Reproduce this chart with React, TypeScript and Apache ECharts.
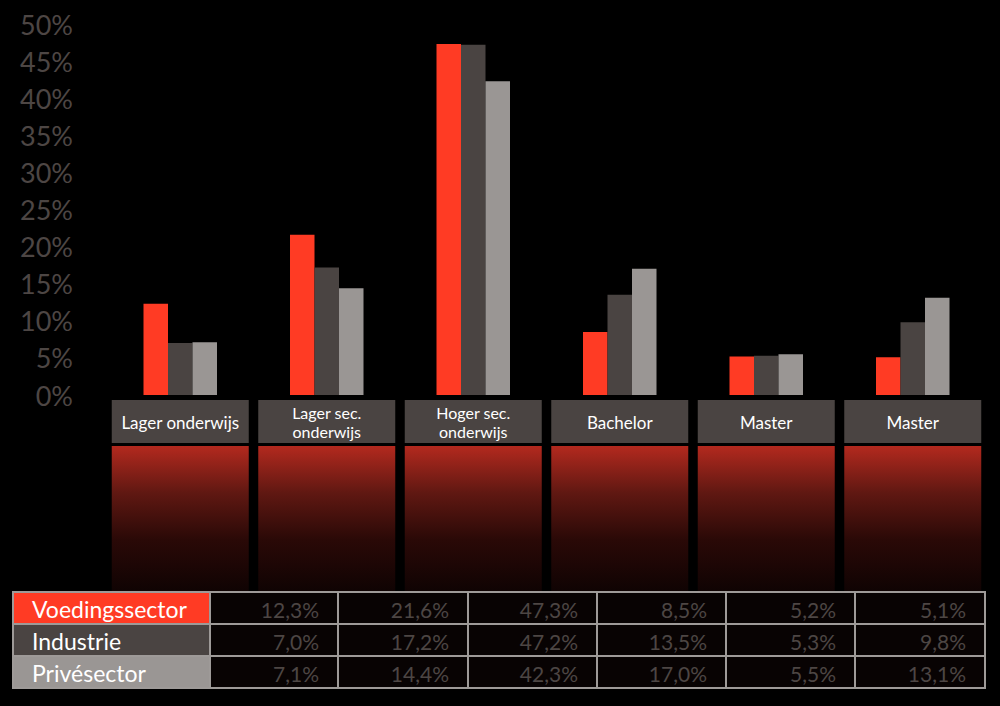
import React, { useEffect, useRef } from "react";
import * as echarts from "echarts";

const categories = ["Lager onderwijs", "Lager sec.\nonderwijs", "Hoger sec.\nonderwijs", "Bachelor", "Master", "Master"];
const seriesNames = ["Voedingssector", "Industrie", "Privésector"];
const voeding = [12.3, 21.6, 47.3, 8.5, 5.2, 5.1];
const industrie = [7.0, 17.2, 47.2, 13.5, 5.3, 9.8];
const prive = [7.1, 14.4, 42.3, 17.0, 5.5, 13.1];
const yMax = 50;
const yInterval = 5;

const seriesValues = [voeding, industrie, prive];
const colors = ["#ff3b24", "#4a4442", "#9a9694"];
const FONT = "Lato, 'Open Sans', sans-serif";

const fmt = (v: number) => v.toFixed(1).replace(".", ",") + "%";

export default function App() {
  const ref = useRef<HTMLDivElement>(null);
  useEffect(() => {
    document.body.style.margin = "0";
    document.body.style.background = "#000";
    const chart = echarts.init(ref.current!, null, { renderer: "svg" });
    chart.setOption({
      animation: false,
      backgroundColor: "#000",
      grid: { left: 107, right: 14, top: 24, bottom: 311 },
      xAxis: {
        type: "category",
        data: categories,
        axisLine: { show: false },
        axisTick: { show: false },
        axisLabel: { show: false },
      },
      yAxis: {
        type: "value",
        min: 0,
        max: yMax,
        interval: yInterval,
        splitLine: { show: false },
        axisLine: { show: false },
        axisTick: { show: false },
        axisLabel: {
          formatter: "{value}%",
          color: "#4d4644",
          fontSize: 27,
          fontFamily: FONT,
          margin: 34,
        },
      },
      series: seriesValues.map((vals, i) => ({
        type: "bar",
        name: seriesNames[i],
        data: vals,
        barWidth: 24.5,
        barGap: "0%",
        itemStyle: { color: colors[i] },
      })),
    });

    const elements: any[] = [];
    const boxW = 137;
    const lineGap = 19.5;
    categories.forEach((c, i) => {
      const cx = chart.convertToPixel({ xAxisIndex: 0 }, i) as number;
      elements.push({
        type: "rect",
        shape: { x: cx - boxW / 2, y: 446, width: boxW, height: 156 },
        style: {
          fill: new echarts.graphic.LinearGradient(0, 0, 0, 1, [
            { offset: 0, color: "#b3291e" },
            { offset: 0.3, color: "#601812" },
            { offset: 0.6, color: "#2a0907" },
            { offset: 1, color: "#0a0202" },
          ]),
        },
        z: 1,
      });
      elements.push({
        type: "rect",
        shape: { x: cx - boxW / 2, y: 400, width: boxW, height: 43 },
        style: { fill: "#4a4442" },
        z: 2,
      });
      const lines = c.split("\n");
      const startY = 422 - ((lines.length - 1) * lineGap) / 2;
      lines.forEach((ln, k) => {
        elements.push({
          type: "text",
          x: cx,
          y: startY + k * lineGap,
          style: {
            text: ln,
            fill: "#ffffff",
            font: `${lines.length > 1 ? 16 : 17}px ${FONT}`,
            align: "center",
            verticalAlign: "middle",
          },
          z: 3,
        });
      });
    });

    // table
    const colX = [13, 210, 338, 468, 597, 726, 855, 985];
    const rowY = [592, 624, 656, 688];
    const border = "#9e9a98";
    seriesNames.forEach((name, r) => {
      const y0 = rowY[r];
      const h = rowY[r + 1] - y0;
      elements.push({
        type: "rect",
        shape: { x: colX[0], y: y0, width: colX[1] - colX[0], height: h },
        style: { fill: colors[r], stroke: border, lineWidth: 2 },
        z: 10,
      });
      elements.push({
        type: "text",
        x: 32,
        y: y0 + h / 2 + 1,
        style: {
          text: name,
          fill: "#ffffff",
          font: `23px ${FONT}`,
          align: "left",
          verticalAlign: "middle",
        },
        z: 11,
      });
      seriesValues[r].forEach((v, c) => {
        const x0 = colX[c + 1];
        const x1 = colX[c + 2];
        elements.push({
          type: "rect",
          shape: { x: x0, y: y0, width: x1 - x0, height: h },
          style: { fill: "#080303", stroke: border, lineWidth: 2 },
          z: 10,
        });
        elements.push({
          type: "text",
          x: x1 - 19,
          y: y0 + h / 2 + 1,
          style: {
            text: fmt(v),
            fill: "#4d4644",
            font: `21px ${FONT}`,
            align: "right",
            verticalAlign: "middle",
          },
          z: 11,
        });
      });
    });

    chart.setOption({ graphic: { elements } });
    return () => chart.dispose();
  }, []);
  return (
    <div
      ref={ref}
      style={{ position: "fixed", left: 0, top: 0, width: 1000, height: 706, background: "#000" }}
    />
  );
}
